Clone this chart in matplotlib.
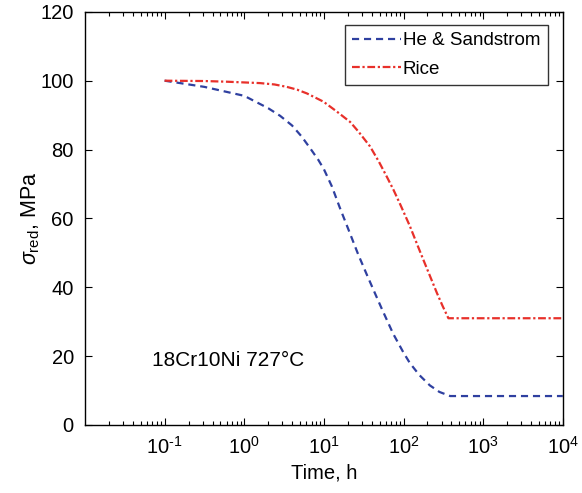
import matplotlib
matplotlib.use("Agg")
import matplotlib.pyplot as plt
from matplotlib.ticker import FixedLocator, LogLocator, NullFormatter, FixedFormatter

plt.rcParams["font.family"] = ["Liberation Sans", "DejaVu Sans"]
plt.rcParams["mathtext.fontset"] = "custom"
plt.rcParams["mathtext.rm"] = "Liberation Sans"
plt.rcParams["mathtext.it"] = "Liberation Sans:italic"
plt.rcParams["axes.unicode_minus"] = False

# He & Sandstrom (blue dashed), time in h, stress in MPa
t_hs = [0.1, 0.316, 1.0, 2.0, 2.82, 3.98, 5.25, 6.76, 8.51, 10.0, 12.6, 15.8, 20.4, 26.9,
        34.7, 43.7, 53.7, 74.1, 100.0, 120.0, 158.0, 214.0, 282.0, 385.0, 1e4]
s_hs = [100.0, 98.2, 95.6, 92.0, 89.8, 87.0, 83.8, 80.3, 77.0, 74.3, 69.3, 63.2, 56.7, 49.6,
        43.6, 38.3, 33.6, 26.5, 21.0, 18.0, 14.5, 11.5, 9.6, 8.4, 8.4]

# Rice (red dash-dot)
t_rice = [0.1, 0.316, 0.61, 1.58, 2.4, 3.43, 4.6, 6.12, 9.89, 14.6, 21.4, 27.2, 38.0, 49.0,
          61.7, 74.8, 91.2, 120.0, 151.0, 178.0, 219.0, 263.0, 309.0, 366.0, 1e4]
s_rice = [100.0, 99.9, 99.7, 99.3, 98.9, 98.2, 97.4, 96.3, 93.9, 91.0, 88.0, 85.2, 80.9, 76.5,
          72.1, 68.3, 64.0, 57.8, 52.0, 47.9, 42.8, 38.3, 34.6, 31.0, 31.0]

x_ticks = [1e-1, 1e0, 1e1, 1e2, 1e3, 1e4]
x_tick_labels = [r"$10^{\text{-}1}$", "$10^{0}$", "$10^{1}$", "$10^{2}$", "$10^{3}$", "$10^{4}$"]
y_ticks = [0, 20, 40, 60, 80, 100, 120]

fig = plt.figure(figsize=(5.82, 4.93), dpi=100)
ax = fig.add_axes([0.146, 0.138, 0.821, 0.838])

ax.plot(t_hs, s_hs, linestyle=(0, (3.2, 2.2)), color="#2f40a0", linewidth=1.6,
        label="He & Sandstrom")
ax.plot(t_rice, s_rice, linestyle=(0, (3.5, 1.2, 1.0, 1.2)), color="#e8302a", linewidth=1.6,
        label="Rice")

ax.set_xscale("log")
ax.set_xlim(1e-2, 1e4)
ax.set_ylim(0, 120)
ax.xaxis.set_major_locator(FixedLocator(x_ticks))
ax.xaxis.set_major_formatter(FixedFormatter(x_tick_labels))
ax.xaxis.set_minor_locator(LogLocator(base=10, subs=[2, 3, 4, 5, 6, 7, 8, 9], numticks=20))
ax.xaxis.set_minor_formatter(NullFormatter())
ax.set_yticks(y_ticks)

ax.tick_params(which="both", direction="in", top=True, right=True, labelsize=14.5, width=0.8)
ax.tick_params(which="major", length=5, pad=8)
ax.tick_params(which="minor", length=3)
for sp in ax.spines.values():
    sp.set_linewidth(1.0)

ax.set_xlabel("Time, h", fontsize=14.5, labelpad=4)
ax.set_ylabel(r"$\sigma_{\mathrm{red}}$, MPa", fontsize=15.5, labelpad=-1)

ax.text(0.14, 0.143, "18Cr10Ni 727°C", transform=ax.transAxes, fontsize=15)

leg = ax.legend(loc="upper right", bbox_to_anchor=(0.9686, 0.9685), borderaxespad=0,
                fontsize=13.5, handlelength=2.6, handletextpad=0.1, borderpad=0.4,
                labelspacing=0.6, fancybox=False, framealpha=1)
leg.get_frame().set_edgecolor("#333333")
leg.get_frame().set_linewidth(1.0)

fig.savefig("out.png", dpi=100)
